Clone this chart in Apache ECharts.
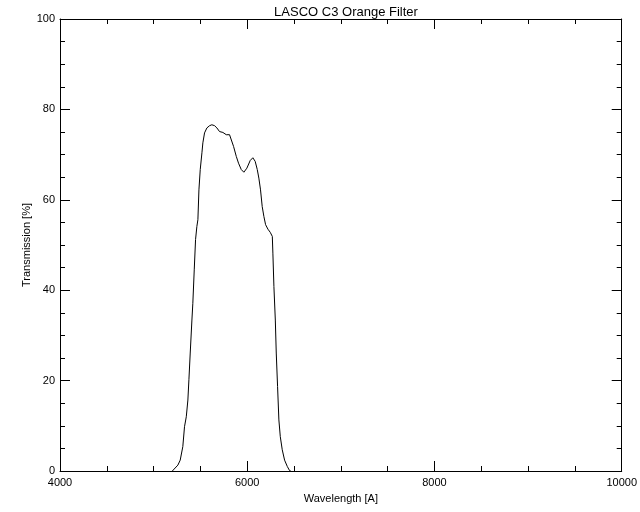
<!DOCTYPE html>
<html>
<head>
<meta charset="utf-8">
<script src="https://cdn.jsdelivr.net/npm/echarts@6/dist/echarts.min.js"></script>
<style>html,body{margin:0;padding:0;background:#fff;}#c{width:640px;height:512px;}</style>
</head>
<body>
<div id="c"></div>
<script>
var wavelength = [5200, 5216, 5259, 5284, 5312, 5330, 5349, 5366, 5377, 5391, 5409, 5419, 5434, 5448, 5462, 5473, 5484, 5498, 5516, 5526, 5544, 5569, 5598, 5622, 5651, 5676, 5704, 5740, 5776, 5811, 5829, 5854, 5883, 5907, 5936, 5964, 5996, 6032, 6060, 6085, 6107, 6124, 6142, 6160, 6178, 6196, 6221, 6246, 6268, 6274, 6285, 6300, 6310, 6324, 6338, 6353, 6374, 6399, 6428, 6452, 6465];
var transmission = [0, 0.2, 1.3, 2.4, 5.4, 9.8, 12.0, 15.7, 20.2, 26.1, 33.4, 37.1, 44.5, 51.2, 54.1, 55.6, 62.2, 66.7, 70.4, 72.6, 74.8, 75.9, 76.4, 76.6, 76.4, 75.9, 75.1, 74.9, 74.4, 74.4, 74.0, 71.8, 69.6, 68.1, 66.7, 66.1, 67.0, 68.7, 69.3, 68.5, 66.7, 64.8, 62.2, 58.5, 56.3, 54.5, 53.5, 52.8, 51.9, 48.2, 40.8, 33.4, 26.1, 18.7, 11.3, 7.6, 4.7, 2.4, 1.0, 0.1, 0];
var xTicks = [4000, 6000, 8000, 10000];
var yTicks = [0, 20, 40, 60, 80, 100];

var data = wavelength.map(function (w, i) { return [w, transmission[i]]; });
var font = 'Liberation Sans';
var axisLine = { show: true, onZero: false, lineStyle: { color: '#000', width: 1 } };
var fmt = function (v) { return String(v); };
var chart = echarts.init(document.getElementById('c'), null, { renderer: 'canvas' });
chart.setOption({
  animation: false,
  backgroundColor: '#fff',
  title: {
    text: 'LASCO C3 Orange Filter', left: 341, top: 1, textAlign: 'center',
    textStyle: { fontFamily: font, fontSize: 13, fontWeight: 'normal', color: '#000' }
  },
  grid: { left: 60, right: 18, top: 19, bottom: 41 },
  xAxis: [{
    type: 'value', min: xTicks[0], max: xTicks[xTicks.length - 1], interval: 2000,
    position: 'bottom', axisLine: axisLine,
    axisTick: { show: true, inside: true, length: 10, lineStyle: { color: '#000' } },
    minorTick: { show: true, splitNumber: 4, length: 5, lineStyle: { color: '#000' } },
    splitLine: { show: false },
    axisLabel: { margin: 6, fontFamily: font, fontSize: 11, color: '#000', formatter: fmt },
    name: 'Wavelength [A]', nameLocation: 'middle', nameGap: 22, nameMoveOverlap: false,
    nameTextStyle: { fontFamily: font, fontSize: 11, color: '#000' }
  }, {
    type: 'value', min: xTicks[0], max: xTicks[xTicks.length - 1], interval: 2000,
    position: 'top', axisLine: axisLine,
    axisTick: { show: true, inside: true, length: 10, lineStyle: { color: '#000' } },
    minorTick: { show: true, splitNumber: 4, length: 5, lineStyle: { color: '#000' } },
    splitLine: { show: false }, axisLabel: { show: false }
  }],
  yAxis: [{
    type: 'value', min: yTicks[0], max: yTicks[yTicks.length - 1], interval: 20,
    position: 'left', axisLine: axisLine,
    axisTick: { show: true, inside: true, length: 10, lineStyle: { color: '#000' } },
    minorTick: { show: true, splitNumber: 4, length: 5, lineStyle: { color: '#000' } },
    splitLine: { show: false },
    axisLabel: { margin: 5, fontFamily: font, fontSize: 11, color: '#000', formatter: fmt },
    name: 'Transmission [%]', nameLocation: 'middle', nameGap: 28, nameRotate: 90, nameMoveOverlap: false,
    nameTextStyle: { fontFamily: font, fontSize: 11, color: '#000' }
  }, {
    type: 'value', min: yTicks[0], max: yTicks[yTicks.length - 1], interval: 20,
    position: 'right', axisLine: axisLine,
    axisTick: { show: true, inside: true, length: 10, lineStyle: { color: '#000' } },
    minorTick: { show: true, splitNumber: 4, length: 5, lineStyle: { color: '#000' } },
    splitLine: { show: false }, axisLabel: { show: false }
  }],
  series: [{
    type: 'line', data: data, xAxisIndex: 0, yAxisIndex: 0,
    showSymbol: false, symbol: 'none', smooth: false,
    lineStyle: { color: '#000', width: 1 }
  }]
});
</script>
</body>
</html>
